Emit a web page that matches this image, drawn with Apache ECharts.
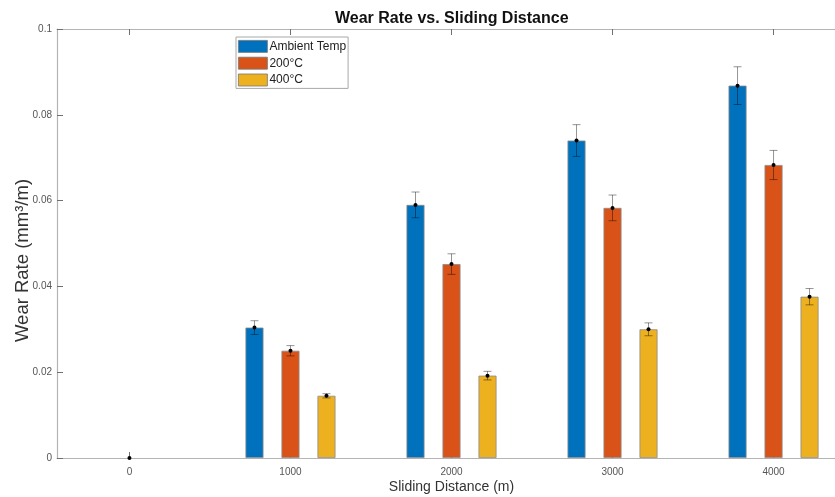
<!DOCTYPE html>
<html>
<head>
<meta charset="utf-8">
<script src="https://cdn.jsdelivr.net/npm/echarts@6/dist/echarts.min.js"></script>
<style>
  html, body { margin: 0; padding: 0; background: #fff; }
  #chart { width: 835px; height: 497px; }
</style>
</head>
<body>
<div id="chart"></div>
<script>
// Sliding distances (m) and mean wear rates (mm^3/m) per test temperature
const distances = [0, 1000, 2000, 3000, 4000];
const seriesNames = ['Ambient Temp', '200°C', '400°C'];
const ambientRate = [0, 0.0304, 0.0590, 0.0740, 0.0868];
const rate200 = [0, 0.0250, 0.0452, 0.0583, 0.0683];
const rate400 = [0, 0.0145, 0.0192, 0.0300, 0.0376];
// Half-widths of the error bars
const ambientErr = [0, 0.0016, 0.0030, 0.0037, 0.0044];
const err200 = [0, 0.0012, 0.0024, 0.0030, 0.0034];
const err400 = [0, 0.0005, 0.0010, 0.0015, 0.0019];
const yTicks = [0, 0.02, 0.04, 0.06, 0.08, 0.1];

const colors = ['#0072BD', '#D95319', '#EDB120'];
const FONT = "'Liberation Sans', Arial, sans-serif";
const BAR_W = 18;
const PITCH = 36; // centre-to-centre spacing of bars inside a group (px)

const means = [ambientRate, rate200, rate400];
const errs = [ambientErr, err200, err400];

function barSeries(i) {
  return {
    name: seriesNames[i],
    type: 'bar',
    barWidth: BAR_W,
    barGap: '100%',
    itemStyle: { color: colors[i], borderColor: '#8a8a8a', borderWidth: 0.8 },
    // zero-height bars get no outline so nothing shows at the origin
    data: distances.map((d, k) => {
      const v = means[i][k];
      return v === 0 ? { value: [d, v], itemStyle: { borderWidth: 0 } } : [d, v];
    }),
    z: 2
  };
}

function errorSeries(i) {
  const offset = (i - 1) * PITCH;
  return {
    name: seriesNames[i] + ' error',
    type: 'custom',
    z: 5,
    silent: true,
    encode: { x: 0, y: [1, 2, 3] },
    data: distances.map((d, k) => [d, means[i][k], means[i][k] - errs[i][k], means[i][k] + errs[i][k]]),
    renderItem: function (params, api) {
      const x = api.value(0), y = api.value(1);
      if (y === 0 && offset !== 0) return null;
      const p = api.coord([x, y]);
      const lo = api.coord([x, api.value(2)]);
      const hi = api.coord([x, api.value(3)]);
      const cx = p[0] + offset;
      const cap = 4;
      const stroke = { stroke: 'rgba(0,0,0,0.42)', lineWidth: 1 };
      const children = [];
      if (hi[1] !== lo[1]) {
        children.push(
          { type: 'line', shape: { x1: cx, y1: hi[1], x2: cx, y2: lo[1] }, style: stroke },
          { type: 'line', shape: { x1: cx - cap, y1: hi[1], x2: cx + cap, y2: hi[1] }, style: stroke },
          { type: 'line', shape: { x1: cx - cap, y1: lo[1], x2: cx + cap, y2: lo[1] }, style: stroke }
        );
      }
      children.push({ type: 'circle', shape: { cx: cx, cy: p[1], r: 2 }, style: { fill: '#000' } });
      return { type: 'group', children: children };
    }
  };
}

const axisGray = '#b4b4b4';
const tickGray = '#707070';

const chart = echarts.init(document.getElementById('chart'), null, { renderer: 'canvas' });
chart.setOption({
  animation: false,
  backgroundColor: '#fff',
  textStyle: { fontFamily: FONT },
  title: {
    text: 'Wear Rate vs. Sliding Distance',
    left: 330,
    top: 6,
    textStyle: { fontFamily: FONT, fontSize: 16, fontWeight: 'bold', color: '#111' }
  },
  legend: {
    data: seriesNames,
    orient: 'vertical',
    left: 236,
    top: 37,
    padding: [3, 2, 2, 2],
    itemWidth: 29,
    itemHeight: 12,
    itemGap: 4,
    icon: 'rect',
    backgroundColor: '#fff',
    borderColor: '#a8a8a8',
    borderWidth: 1,
    borderRadius: 0,
    itemStyle: { borderColor: '#777', borderWidth: 0.8 },
    textStyle: { fontFamily: FONT, fontSize: 12, color: '#222', padding: [0, 0, 0, -3] }
  },
  grid: { left: 57, right: -11, top: 29, bottom: 39, containLabel: false, outerBoundsMode: 'none' },
  xAxis: [
    {
      type: 'value',
      min: -450,
      max: 4450,
      position: 'bottom',
      name: 'Sliding Distance (m)',
      nameLocation: 'middle',
      nameGap: 22,
      nameMoveOverlap: false,
      nameTextStyle: { fontFamily: FONT, fontSize: 14, color: '#333' },
      splitLine: { show: false },
      axisLine: { onZero: false, lineStyle: { color: axisGray, width: 1.2 } },
      axisTick: { show: true, inside: true, length: 6, customValues: distances, lineStyle: { color: tickGray } },
      axisLabel: {
        customValues: distances,
        margin: 9,
        fontSize: 10,
        color: '#555',
        fontFamily: FONT,
        formatter: function (v) { return String(v); }
      }
    },
    {
      type: 'value',
      min: -450,
      max: 4450,
      position: 'top',
      splitLine: { show: false },
      axisLine: { onZero: false, lineStyle: { color: axisGray, width: 1.2 } },
      axisTick: { show: true, inside: true, length: 6, customValues: distances, lineStyle: { color: tickGray } },
      axisLabel: { show: false }
    }
  ],
  yAxis: {
    type: 'value',
    min: 0,
    max: 0.1,
    interval: 0.02,
    name: 'Wear Rate (mm³/m)',
    nameLocation: 'middle',
    nameGap: 25,
    nameMoveOverlap: false,
    nameTextStyle: { fontFamily: FONT, fontSize: 18.5, color: '#333', padding: [0, 34, 0, 0] },
    splitLine: { show: false },
    axisLine: { show: true, onZero: false, lineStyle: { color: axisGray, width: 1.2 } },
    axisTick: { show: true, inside: true, length: 6, customValues: yTicks, lineStyle: { color: tickGray } },
    axisLabel: {
      customValues: yTicks,
      margin: 5,
      fontSize: 10,
      color: '#555',
      fontFamily: FONT,
      formatter: function (v) { return String(+v.toFixed(2)); }
    }
  },
  series: [barSeries(0), barSeries(1), barSeries(2), errorSeries(0), errorSeries(1), errorSeries(2)]
});
</script>
</body>
</html>
